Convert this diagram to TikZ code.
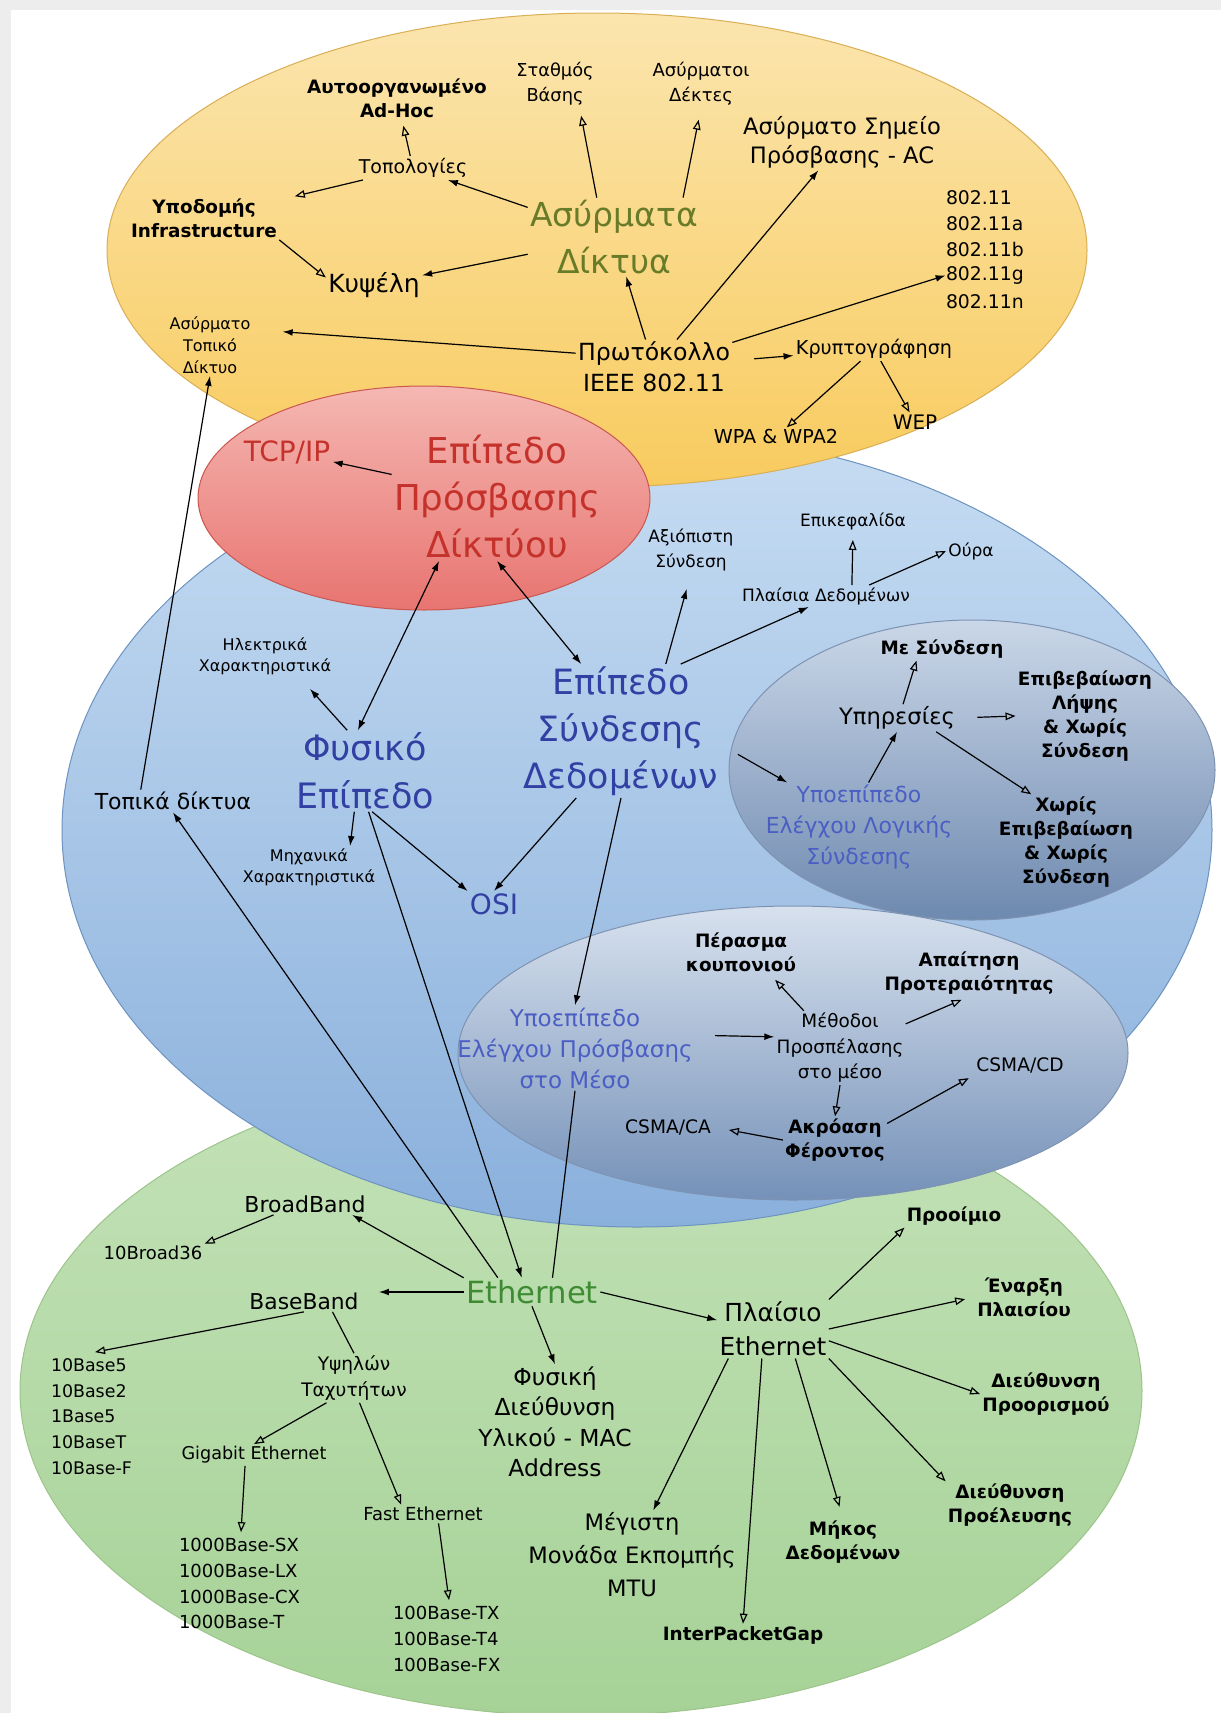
\documentclass[tikz,border=0pt]{standalone}
\usepackage{fontspec}
\setmainfont{DejaVu Sans}
\usetikzlibrary{positioning,chains,calc,arrows.meta}
\newcommand{\setsz}[2]{\fontsize{#1}{#2}\selectfont}
\definecolor{wirelessgreen}{HTML}{677B28}
\definecolor{accessred}{HTML}{C4322B}
\definecolor{layerblue}{HTML}{3340A3}
\definecolor{sublayerblue}{HTML}{4A5EC4}
\definecolor{ethernetgreen}{HTML}{3E8B34}
% area fills
\definecolor{yellowtop}{HTML}{FBE5AE}
\definecolor{yellowbot}{HTML}{F8CB5E}
\definecolor{yellowrim}{HTML}{D9AE55}
\definecolor{redtop}{HTML}{F5B7B2}
\definecolor{redbot}{HTML}{E87470}
\definecolor{redrim}{HTML}{C9574F}
\definecolor{bluetop}{HTML}{C6DCF2}
\definecolor{bluebot}{HTML}{8AB0DC}
\definecolor{bluerim}{HTML}{6D93C0}
\definecolor{llctop}{HTML}{CAD7E8}
\definecolor{llcbot}{HTML}{6E89AF}
\definecolor{mactop}{HTML}{D7E1EE}
\definecolor{macbot}{HTML}{7591B8}
\definecolor{subrim}{HTML}{7E93B2}
\definecolor{greentop}{HTML}{C4E2B8}
\definecolor{greenbot}{HTML}{A6D297}
\definecolor{greenrim}{HTML}{9CC48B}
\tikzset{
	network map/.style={
		x=0.5pt, y=-0.5pt, % one unit = one pixel of the sketch
		every node/.style={align=center, inner sep=1pt},
		filled edge/.style={line width=0.6pt, -{Latex[length=5pt,width=3.4pt]}},
		open edge/.style={line width=0.6pt, -{Triangle[open,length=5pt,width=3.8pt]}},
		double edge/.style={line width=0.6pt, {Latex[length=5pt,width=3.4pt]}-{Latex[length=5pt,width=3.4pt]}},
		bare edge/.style={line width=0.6pt}
	},
	term/.style 2 args={font=\setsz{#1}{#2}},
	detail/.style={font=\bfseries\setsz{9.2}{12}},
	list item/.style 2 args={
		on chain,
		text width=#1,
		align=left,
		inner sep=0pt,
		minimum height=12.5pt,
		font=\setsz{#2}{11}
	},
	area/.style n args={3}{
		top color=#1,
		bottom color=#2,
		draw=#3,
		line width=0.5pt
	}
}
\begin{document}
\begin{tikzpicture}[network map]
	\useasboundingbox (0,0) rectangle (1221,1713);
	\fill[black!7] (0,0) rectangle (1221,1713);
	\fill[white] (11,10) rectangle (1221,1713);
	% areas
	\path[area={greentop}{greenbot}{greenrim}] (581,1391) ellipse [x radius=280.5pt, y radius=162.5pt];
	\path[area={bluetop}{bluebot}{bluerim}] (637,830) ellipse [x radius=287.5pt, y radius=198.5pt];
	\path[area={llctop}{llcbot}{subrim}] (972,770) ellipse [x radius=121.5pt, y radius=75pt];
	\path[area={mactop}{macbot}{subrim}] (793,1053) ellipse [x radius=167.5pt, y radius=73.5pt];
	\path[area={yellowtop}{yellowbot}{yellowrim}] (597,250) ellipse [x radius=245pt, y radius=118.5pt];
	\path[area={redtop}{redbot}{redrim}] (424,498) ellipse [x radius=113pt, y radius=56pt];

	% wireless networks
	\node[term={16.5}{23.5}, text=wirelessgreen] (wlan) at (614,237) {Ασύρματα\\Δίκτυα};
	\node[detail] (adhoc) at (397,98) {Αυτοοργανωμένο\\Ad-Hoc};
	\node[term={8.9}{12.5}] (station) at (555,84) {Σταθμός\\Βάσης};
	\node[term={9}{12.5}] (receivers) at (701,84) {Ασύρματοι\\Δέκτες};
	\node[term={11.3}{14.5}] (ap) at (842,142) {Ασύρματο Σημείο\\Πρόσβασης - AC};
	\node[term={9.5}{12}] (topo) at (413,168) {Τοπολογίες};
	\node[detail] (infra) at (204,218) {Υποδομής\\Infrastructure};
	\node[term={12.5}{15}] (cell) at (374,285) {Κυψέλη};
	\node[term={8}{11}] (wlanloc) at (210,345) {Ασύρματο\\Τοπικό\\Δίκτυο};
	\node[term={11.8}{15.5}] (proto) at (654,367) {Πρωτόκολλο\\IEEE 802.11};
	\node[term={9.6}{12}] (crypt) at (874,349) {Κρυπτογράφηση};
	\node[term={9.6}{12}] (wpa) at (776,437) {WPA \& WPA2};
	\node[term={10}{12}] (wep) at (915,422) {WEP};
	\begin{scope}[start chain=std going below, node distance=0pt, every node/.style={list item={40pt}{9.4}}]
		\node at (986,198) {802.11};
		\node {802.11a};
		\node {802.11b};
		\node {802.11g};
		\node {802.11n};
	\end{scope}

	% network access layer
	\node[term={14}{16}, text=accessred] (tcpip) at (287,452) {TCP/IP};
	\node[term={17.8}{23.5}, text=accessred] (access) at (497,497) {Επίπεδο\\Πρόσβασης\\Δίκτύου};

	% physical and data link layers
	\node[term={17.5}{24}, text=layerblue] (phys) at (365,771) {Φυσικό\\Επίπεδο};
	\node[term={17.4}{23.5}, text=layerblue] (datalink) at (621,731) {Επίπεδο\\Σύνδεσης\\Δεδομένων};
	\node[term={14}{16}, text=layerblue] (osi) at (494,904) {OSI};
	\node[term={11}{13}] (lans) at (173,801) {Τοπικά δίκτυα};
	\node[term={8}{10.5}] (electric) at (265,656) {Ηλεκτρικά\\Χαρακτηριστικά};
	\node[term={8}{10.5}] (mechanic) at (309,867) {Μηχανικά\\Χαρακτηριστικά};
	\node[term={8.5}{12.5}] (reliable) at (691,550) {Αξιόπιστη\\Σύνδεση};
	\node[term={8.5}{11}] (header) at (853,521) {Επικεφαλίδα};
	\node[term={8.5}{11}] (tail) at (971,551) {Ούρα};
	\node[term={8.5}{11}] (frames) at (826,596) {Πλαίσια Δεδομένων};

	% logical link control
	\node[detail] (connected) at (942,649) {Με Σύνδεση};
	\node[term={11.3}{13}] (services) at (897,718) {Υπηρεσίες};
	\node[detail] (ackless) at (1085,716) {Επιβεβαίωση\\Λήψης\\\& Χωρίς\\Σύνδεση};
	\node[term={11}{15.5}, text=sublayerblue] (llc) at (859,827) {Υποεπίπεδο\\Ελέγχου Λογικής\\Σύνδεσης};
	\node[detail] (noack) at (1066,842) {Χωρίς\\Επιβεβαίωση\\\& Χωρίς\\Σύνδεση};

	% medium access control
	\node[detail] (token) at (741,952) {Πέρασμα\\κουπονιού};
	\node[detail] (priority) at (969,973) {Απαίτηση\\Προτεραιότητας};
	\node[term={11.5}{15.5}, text=sublayerblue] (mac) at (575,1048) {Υποεπίπεδο\\Ελέγχου Πρόσβασης\\στο Μέσο};
	\node[term={9.2}{12.75}] (methods) at (840,1048) {Μέθοδοι\\Προσπέλασης\\στο μέσο};
	\node[term={9.3}{12}] (csmacd) at (1020,1065) {CSMA/CD};
	\node[term={9.3}{12}] (csmaca) at (668,1127) {CSMA/CA};
	\node[detail] (carrier) at (835,1140) {Ακρόαση\\Φέροντος};

	% ethernet
	\node[term={15.3}{18}, text=ethernetgreen] (ethernet) at (532,1292) {Ethernet};
	\node[term={11}{13}] (broadband) at (305,1204) {BroadBand};
	\node[term={9}{11}] (broad36) at (153,1253) {10Broad36};
	\node[term={10.9}{13}] (baseband) at (304,1301) {BaseBand};
	\node[detail] (preamble) at (954,1216) {Προοίμιο};
	\node[term={12.4}{17}] (frame) at (773,1329) {Πλαίσιο\\Ethernet};
	\node[detail] (sof) at (1024,1297) {Έναρξη\\Πλαισίου};
	\node[term={9.3}{13}] (highspeed) at (354,1378) {Υψηλών\\Ταχυτήτων};
	\node[term={11.7}{15.25}] (macaddr) at (555,1422) {Φυσική\\Διεύθυνση\\Υλικού - MAC\\Address};
	\node[detail] (dest) at (1046,1394) {Διεύθυνση\\Προορισμού};
	\node[term={8.8}{11}] (gigabit) at (254,1455) {Gigabit Ethernet};
	\node[term={9}{11}] (fast) at (423,1514) {Fast Ethernet};
	\node[term={11.3}{16.5}] (mtu) at (632,1555) {Μέγιστη\\Μονάδα Εκπομπής\\MTU};
	\node[detail] (length) at (843,1542) {Μήκος\\Δεδομένων};
	\node[detail] (source) at (1010,1505) {Διεύθυνση\\Προέλευσης};
	\node[detail] (ipg) at (743,1635) {InterPacketGap};
	\begin{scope}[start chain=tenbase going below, node distance=0pt, every node/.style={list item={44pt}{8.7}}]
		\node at (95,1365) {10Base5};
		\node {10Base2};
		\node {1Base5};
		\node {10BaseT};
		\node {10Base-F};
	\end{scope}
	\begin{scope}[start chain=gig going below, node distance=0pt, every node/.style={list item={62pt}{9}}]
		\node at (241,1545) {1000Base-SX};
		\node {1000Base-LX};
		\node {1000Base-CX};
		\node {1000Base-T};
	\end{scope}
	\begin{scope}[start chain=fe going below, node distance=0pt, every node/.style={list item={56pt}{9}}]
		\node at (449,1613) {100Base-TX};
		\node {100Base-T4};
		\node {100Base-FX};
	\end{scope}

	% edges, wireless
	\draw[filled edge] (wlan) -- (topo);
	\draw[open edge, shorten >=3pt] (topo) -- (adhoc);
	\draw[open edge, shorten >=4pt] ($(wlan.north)!.2!(wlan.north west)$) -- ($(station.south)!.6!(station.south east)$);
	\draw[open edge, shorten >=6pt] ($(wlan.north)!.8!(wlan.north east)$) -- (receivers.south);
	\draw[open edge, shorten >=8pt] (topo) -- (infra);
	\draw[open edge] (infra.south east) -- ($(cell.west)!.5!(cell.north west)$);
	\draw[filled edge] (wlan) -- (cell);
	\draw[filled edge] (proto) -- (wlan);
	\draw[filled edge] (proto) -- (ap);
	\draw[filled edge] (proto) -- (std-4.west);
	\draw[filled edge, shorten >=15pt] (proto.170) -- ($(wlanloc.east)!.5!(wlanloc.north east)$);
	\draw[filled edge, shorten <=11pt] (proto) -- (crypt);
	\draw[open edge] (crypt) -- (wpa);
	\draw[open edge] (crypt) -- (wep);

	% edges, layers
	\draw[filled edge] ($(lans.north west)!.3!(lans.north east)$) -- (wlanloc.south);
	\draw[filled edge] (access) -- (tcpip);
	\draw[double edge] ($(phys.north)!.1!(phys.north west)$) -- ($(access.south)!.55!(access.south west)$);
	\draw[double edge] (access.south) -- ($(datalink.north)!.4!(datalink.north west)$);
	\draw[filled edge, shorten >=8pt] ($(phys.north)!.25!(phys.north west)$) -- ($(electric.south)!.5!(electric.south east)$);
	\draw[filled edge] ($(phys.south)!.15!(phys.south west)$) -- ($(mechanic.north)!.6!(mechanic.north east)$);
	\draw[filled edge] ($(phys.south)!.1!(phys.south east)$) -- (osi.north west);
	\draw[filled edge] ($(phys.south)!.05!(phys.south east)$) -- ($(ethernet.north)!.15!(ethernet.north west)$);
	\draw[filled edge] ($(datalink.south)!.45!(datalink.south west)$) -- (osi.north);
	\draw[filled edge] (datalink.south) -- (mac.north);
	\draw[bare edge] (mac.south) -- ($(ethernet.north)!.3!(ethernet.north east)$);
	\draw[filled edge] ($(ethernet.north west)!.5!(ethernet.north)$) -- (lans.south);
	\draw[filled edge, shorten >=8pt] ($(datalink.north)!.45!(datalink.north east)$) -- (reliable.south);
	\draw[filled edge] ($(datalink.north)!.6!(datalink.north east)$) -- ($(frames.south)!.2!(frames.south west)$);
	\draw[open edge, shorten >=4pt] ($(frames.north)!.3!(frames.north east)$) -- (header.south);
	\draw[open edge] ($(frames.north)!.5!(frames.north east)$) -- (tail.west);
	\draw[filled edge, shorten <=10pt] ($(datalink.north east)!.6!(datalink.south east)$) -- ($(llc.north west)!.25!(llc.north)$);
	\draw[filled edge] ($(llc.north)!.1!(llc.north east)$) -- (services.south);
	\draw[open edge] ($(services.north)!.1!(services.north east)$) -- ($(connected.south)!.4!(connected.south west)$);
	\draw[open edge, shorten <=10pt] (services.east) -- (ackless.west);
	\draw[open edge] ($(services.south)!.65!(services.south east)$) -- ($(noack.north)!.5!(noack.north west)$);

	% edges, medium access
	\draw[filled edge, shorten <=10pt] ($(mac.east)!.3!(mac.north east)$) -- ($(methods.west)!.3!(methods.north west)$);
	\draw[open edge, shorten >=4pt] ($(methods.north)!.55!(methods.north west)$) -- ($(token.south)!.5!(token.south east)$);
	\draw[open edge, shorten >=4pt] ($(methods.north east)!.35!(methods.east)$) -- (priority.south);
	\draw[open edge] (methods.south) -- (carrier.north);
	\draw[open edge, shorten >=8pt] (carrier.west) -- (csmaca.east);
	\draw[open edge, shorten >=3pt] ($(carrier.north east)!.3!(carrier.east)$) -- (csmacd.south west);

	% edges, ethernet
	\draw[filled edge] (ethernet.north west) -- ($(broadband.south east)!.25!(broadband.south)$);
	\draw[open edge] ($(broadband.south)!.5!(broadband.south west)$) -- (broad36.north east);
	\draw[filled edge, shorten >=9pt] (ethernet.west) -- (ethernet.west -| baseband.east);
	\draw[filled edge] (ethernet.east) -- ($(frame.west)!.3!(frame.north west)$);
	\draw[filled edge] (ethernet.south) -- (macaddr.north);
	\draw[open edge] (baseband.south) -- (tenbase-1.north);
	\draw[bare edge] ($(baseband.south)!.5!(baseband.south east)$) -- (highspeed.north);
	\draw[open edge] ($(highspeed.south)!.5!(highspeed.south west)$) -- (gigabit.north);
	\draw[open edge] ($(highspeed.south)!.1!(highspeed.south east)$) -- ($(fast.north)!.35!(fast.north west)$);
	\draw[open edge] ($(gigabit.south)!.12!(gigabit.south west)$) -- (gig-1.north);
	\draw[open edge] ($(fast.south)!.25!(fast.south east)$) -- (fe-1.north);
	\draw[open edge] (frame.north east) -- (preamble.south west);
	\draw[open edge, shorten >=5pt] (frame.east) -- (sof.west);
	\draw[open edge] ($(frame.east)!.4!(frame.south east)$) -- (dest.west);
	\draw[open edge] (frame.south east) -- (source.north west);
	\draw[open edge, shorten >=6pt] ($(frame.south)!.4!(frame.south east)$) -- (length.north);
	\draw[open edge] ($(frame.south)!.2!(frame.south west)$) -- (ipg.north);
	\draw[filled edge] ($(frame.south west)!.2!(frame.south)$) -- ($(mtu.north)!.2!(mtu.north east)$);
\end{tikzpicture}
\end{document}
